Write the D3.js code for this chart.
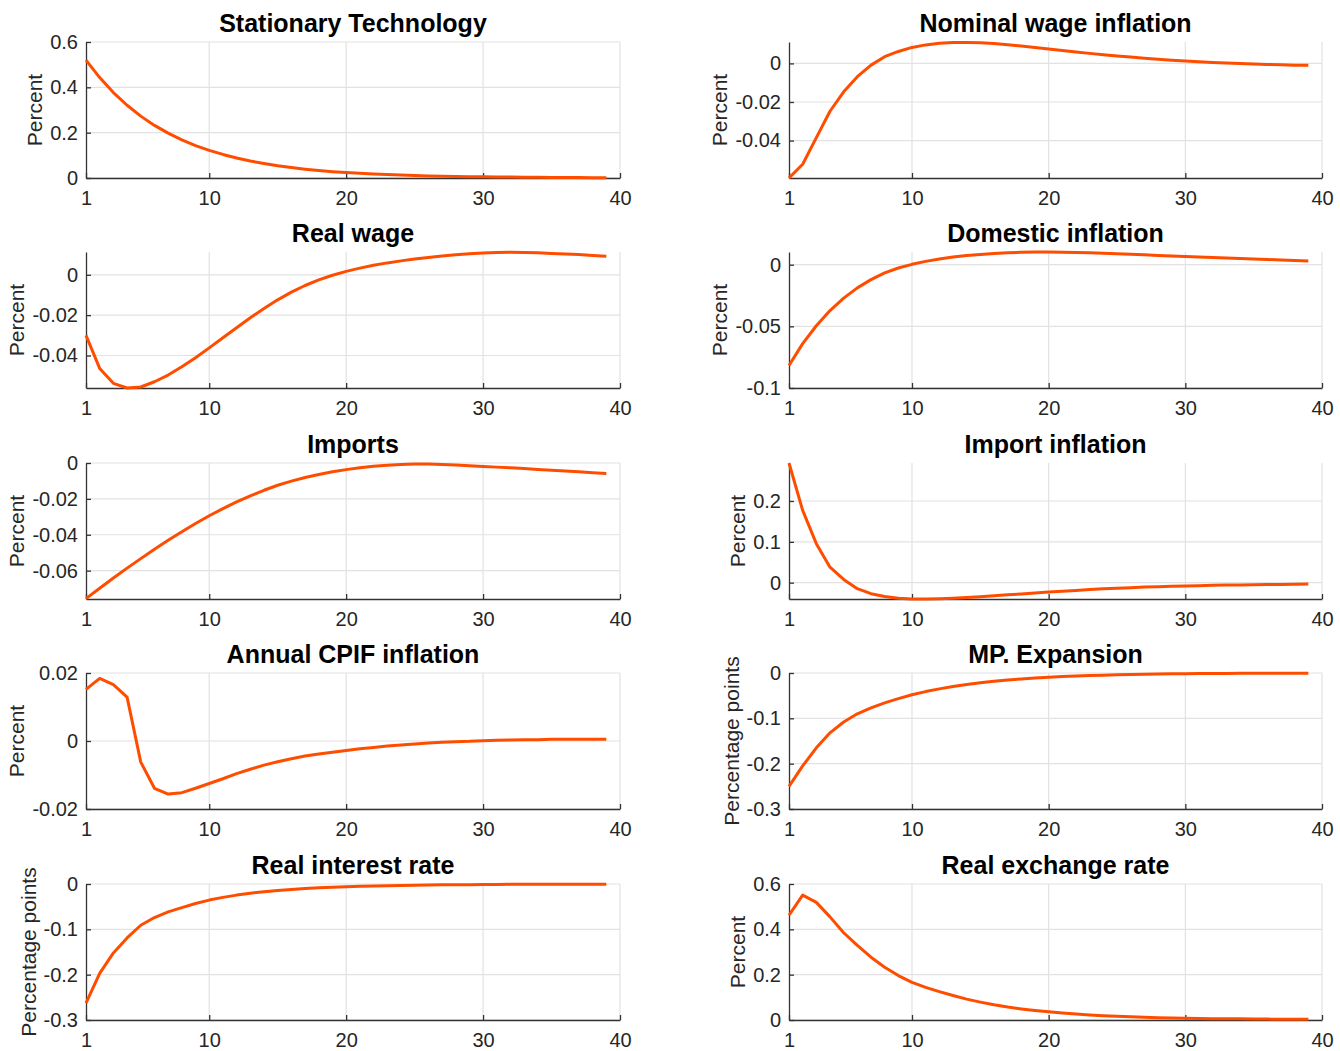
<!DOCTYPE html>
<html>
<head>
<meta charset="utf-8">
<script src="https://cdn.jsdelivr.net/npm/d3@7"></script>
<style>
  html, body { margin: 0; padding: 0; background: #ffffff; }
  svg { display: block; }
  text { font-family: "Liberation Sans", Arial, Helvetica, sans-serif; }
</style>
</head>
<body>
<script>
// Impulse responses, horizon 1..39 quarters
const periods = d3.range(1, 40);
const xTicks = [1, 10, 20, 30, 40];

const titles = [
  "Stationary Technology", "Nominal wage inflation",
  "Real wage", "Domestic inflation",
  "Imports", "Import inflation",
  "Annual CPIF inflation", "MP. Expansion",
  "Real interest rate", "Real exchange rate"
];

const yLabels = [
  "Percent", "Percent",
  "Percent", "Percent",
  "Percent", "Percent",
  "Percent", "Percentage points",
  "Percentage points", "Percent"
];

const stationaryTech = [
  0.520, 0.443, 0.377, 0.321, 0.273, 0.232, 0.198, 0.168, 0.143, 0.122,
  0.104, 0.088, 0.075, 0.064, 0.054, 0.046, 0.039, 0.033, 0.028, 0.024,
  0.021, 0.018, 0.015, 0.013, 0.011, 0.009, 0.008, 0.007, 0.006, 0.005,
  0.004, 0.004, 0.003, 0.003, 0.002, 0.002, 0.002, 0.001, 0.001
];
const nominalWageInfl = [
  -0.0594, -0.0523, -0.0385, -0.0248, -0.0147, -0.0069, -0.0009, 0.0035, 0.0062, 0.0083,
  0.0096, 0.0104, 0.0108, 0.0109, 0.0107, 0.0103, 0.0097, 0.0090, 0.0082, 0.0075,
  0.0067, 0.0059, 0.0052, 0.0045, 0.0039, 0.0033, 0.0027, 0.0022, 0.0017, 0.0012,
  0.0008, 0.0005, 0.0002, 0.0000, -0.0003, -0.0005, -0.0007, -0.0009, -0.0010
];
const realWage = [
  -0.0300, -0.0464, -0.0538, -0.0561, -0.0556, -0.0530, -0.0497, -0.0456, -0.0411, -0.0362,
  -0.0312, -0.0262, -0.0213, -0.0167, -0.0124, -0.0086, -0.0053, -0.0025, -0.0002, 0.0017,
  0.0033, 0.0047, 0.0059, 0.0069, 0.0078, 0.0086, 0.0093, 0.0099, 0.0104, 0.0108,
  0.0111, 0.0112, 0.0111, 0.0109, 0.0106, 0.0103, 0.0100, 0.0096, 0.0092
];
const domesticInfl = [
  -0.0817, -0.0640, -0.0495, -0.0372, -0.0271, -0.0188, -0.0121, -0.0067, -0.0027, 0.0003,
  0.0027, 0.0046, 0.0062, 0.0075, 0.0083, 0.0091, 0.0097, 0.0100, 0.0102, 0.0102,
  0.0101, 0.0099, 0.0096, 0.0093, 0.0089, 0.0085, 0.0080, 0.0075, 0.0071, 0.0066,
  0.0062, 0.0058, 0.0054, 0.0050, 0.0046, 0.0042, 0.0038, 0.0034, 0.0030
];
const imports = [
  -0.0756, -0.0698, -0.0641, -0.0586, -0.0533, -0.0481, -0.0431, -0.0383, -0.0337, -0.0294,
  -0.0254, -0.0217, -0.0183, -0.0152, -0.0124, -0.0101, -0.0081, -0.0064, -0.0049, -0.0037,
  -0.0026, -0.0018, -0.0012, -0.0008, -0.0006, -0.0006, -0.0008, -0.0011, -0.0015, -0.0019,
  -0.0023, -0.0027, -0.0031, -0.0036, -0.0040, -0.0045, -0.0049, -0.0054, -0.0058
];
const importInfl = [
  0.293, 0.177, 0.0955, 0.038, 0.008, -0.0147, -0.027, -0.034, -0.038, -0.0398,
  -0.0400, -0.0393, -0.0380, -0.0362, -0.0342, -0.0320, -0.0298, -0.0276, -0.0253, -0.0231,
  -0.0209, -0.0189, -0.0170, -0.0152, -0.0136, -0.0122, -0.0109, -0.0098, -0.0089, -0.0081,
  -0.0073, -0.0066, -0.0060, -0.0055, -0.0050, -0.0046, -0.0042, -0.0038, -0.0035
];
const cpifInfl = [
  0.0152, 0.0184, 0.0166, 0.0129, -0.0062, -0.0139, -0.0156, -0.0152, -0.0139, -0.0125,
  -0.0111, -0.0096, -0.0083, -0.0071, -0.0061, -0.0052, -0.0044, -0.0038, -0.0033, -0.0028,
  -0.0023, -0.0019, -0.0015, -0.0012, -0.0009, -0.0006, -0.0004, -0.0002, -0.0001, 0.0001,
  0.0002, 0.0003, 0.0004, 0.0004, 0.0005, 0.0005, 0.0005, 0.0005, 0.0005
];
const mpExpansion = [
  -0.250, -0.205, -0.165, -0.132, -0.108, -0.090, -0.077, -0.066, -0.0565, -0.0480,
  -0.0410, -0.0350, -0.0298, -0.0253, -0.0215, -0.0182, -0.0154, -0.0130, -0.0110, -0.0093,
  -0.0079, -0.0066, -0.0056, -0.0047, -0.0040, -0.0033, -0.0028, -0.0023, -0.0019, -0.0016,
  -0.0013, -0.0011, -0.0009, -0.0007, -0.0006, -0.0005, -0.0004, -0.0003, -0.0003
];
const realInterestRate = [
  -0.263, -0.197, -0.152, -0.119, -0.091, -0.074, -0.0615, -0.052, -0.043, -0.0355,
  -0.0295, -0.0245, -0.0204, -0.0170, -0.0142, -0.0119, -0.0100, -0.0084, -0.0071, -0.0060,
  -0.0051, -0.0043, -0.0037, -0.0031, -0.0026, -0.0022, -0.0019, -0.0016, -0.0014, -0.0012,
  -0.0010, -0.0008, -0.0007, -0.0006, -0.0005, -0.0004, -0.0004, -0.0003, -0.0003
];
const realExchangeRate = [
  0.462, 0.551, 0.519, 0.455, 0.385, 0.329, 0.277, 0.233, 0.196, 0.166,
  0.144, 0.125, 0.108, 0.092, 0.079, 0.067, 0.057, 0.049, 0.042, 0.036,
  0.031, 0.026, 0.022, 0.019, 0.016, 0.014, 0.012, 0.010, 0.009, 0.008,
  0.007, 0.006, 0.005, 0.005, 0.004, 0.004, 0.003, 0.003, 0.003
];

const series = [
  stationaryTech, nominalWageInfl,
  realWage, domesticInfl,
  imports, importInfl,
  cpifInfl, mpExpansion,
  realInterestRate, realExchangeRate
];

const yDomains = [
  [0, 0.6], [-0.0594, 0.0111],
  [-0.0561, 0.0113], [-0.1, 0.0103],
  [-0.0758, 0], [-0.0400, 0.293],
  [-0.02, 0.02], [-0.3, 0],
  [-0.3, 0], [0, 0.6]
];

const yTicks = [
  [0, 0.2, 0.4, 0.6], [-0.04, -0.02, 0],
  [-0.04, -0.02, 0], [-0.1, -0.05, 0],
  [-0.06, -0.04, -0.02, 0], [0, 0.1, 0.2],
  [-0.02, 0, 0.02], [-0.3, -0.2, -0.1, 0],
  [-0.3, -0.2, -0.1, 0], [0, 0.2, 0.4, 0.6]
];

// Layout of the 5 x 2 grid of axes
const W = 1340, H = 1051;
const colX = [[86, 620], [789, 1322]];
const rowTop = [42, 252, 463, 673, 884];
const plotH = 136;

const lineColor = "#ff4d00";
const axisColor = "#333333";
const gridColor = "#e2e2e2";
const textColor = "#262626";

const svg = d3.select("body").append("svg")
  .attr("width", W).attr("height", H)
  .attr("viewBox", `0 0 ${W} ${H}`);
svg.append("rect").attr("width", W).attr("height", H).attr("fill", "#ffffff");

series.forEach((values, i) => {
  const col = i % 2, row = Math.floor(i / 2);
  const [x0, x1] = colX[col];
  const y0 = rowTop[row], y1 = rowTop[row] + plotH;

  const x = d3.scaleLinear().domain([1, 40]).range([x0, x1]);
  const y = d3.scaleLinear().domain(yDomains[i]).range([y1, y0]);

  const g = svg.append("g");

  // grid
  g.append("g").selectAll("line").data(xTicks.filter(t => t !== 1)).join("line")
    .attr("x1", d => x(d)).attr("x2", d => x(d))
    .attr("y1", y0).attr("y2", y1)
    .attr("stroke", gridColor).attr("stroke-width", 1.2);
  g.append("g").selectAll("line").data(yTicks[i]).join("line")
    .attr("x1", x0).attr("x2", x1)
    .attr("y1", d => y(d)).attr("y2", d => y(d))
    .attr("stroke", gridColor).attr("stroke-width", 1.2);

  // x axis with inward ticks
  const xAxis = d3.axisBottom(x).tickValues(xTicks).tickSize(-5).tickSizeOuter(0)
    .tickPadding(13).tickFormat(d3.format("d"));
  const gx = g.append("g").attr("transform", `translate(0,${y1})`).call(xAxis);

  // y axis with inward ticks
  const yAxis = d3.axisLeft(y).tickValues(yTicks[i]).tickSize(-5).tickSizeOuter(0)
    .tickPadding(8).tickFormat(d => String(+d.toFixed(4)));
  const gy = g.append("g").attr("transform", `translate(${x0},0)`).call(yAxis);

  [gx, gy].forEach(ax => {
    ax.select(".domain").attr("stroke", axisColor).attr("stroke-width", 1.3);
    ax.selectAll(".tick line").attr("stroke", axisColor).attr("stroke-width", 1.3);
    ax.selectAll(".tick text")
      .attr("fill", textColor)
      .style("font-size", "20px")
      .style("font-family", "'Liberation Sans', Arial, sans-serif");
  });

  // response line
  const line = d3.line().x((d, k) => x(periods[k])).y(d => y(d));
  g.append("path").datum(values)
    .attr("d", line)
    .attr("fill", "none")
    .attr("stroke", lineColor)
    .attr("stroke-width", 3)
    .attr("stroke-linejoin", "round");

  // title
  g.append("text")
    .attr("x", (x0 + x1) / 2).attr("y", y0 - 10)
    .attr("text-anchor", "middle")
    .attr("fill", "#000000")
    .style("font-size", "25px").style("font-weight", "bold")
    .text(titles[i]);

  // y label placed left of the widest tick label (bbox is in the axis group's frame)
  const bb = gy.node().getBBox();
  const labelX = x0 + bb.x - 8;
  g.append("text")
    .attr("transform", `translate(${labelX},${(y0 + y1) / 2}) rotate(-90)`)
    .attr("text-anchor", "middle")
    .attr("fill", textColor)
    .style("font-size", "21px")
    .text(yLabels[i]);
});
</script>
</body>
</html>
